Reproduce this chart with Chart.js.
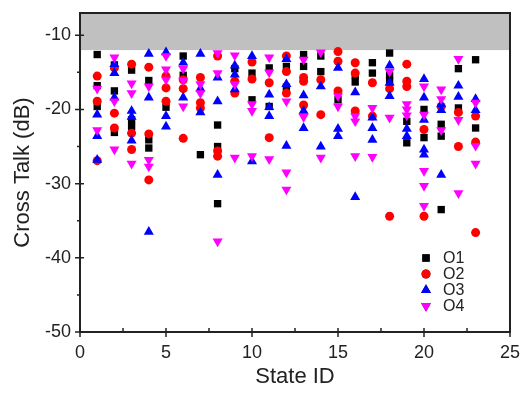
<!DOCTYPE html>
<html>
<head>
<meta charset="utf-8">
<style>
  html, body { margin: 0; padding: 0; background: #fff; }
  #wrap { width: 521px; height: 394px; }
</style>
<script src="https://cdn.jsdelivr.net/npm/chart.js@4.4.1/dist/chart.umd.min.js"></script>
</head>
<body>
<div id="wrap"><canvas id="c" width="521" height="394"></canvas></div>
<script>
// state ids 1..23, each entry lists the cross talk values (dB) read for that state
var stateIds = [1,2,3,4,5,6,7,8,9,10,11,12,13,14,15,16,17,18,19,20,21,22,23];
var o1Values = [
    [-12.6,-16.8,-19.6],[-14.0,-17.5,-23.1],[-14.7,-21.4,-22.3],[-16.1,-24.1,-25.2],[-19.7],
    [-12.8,-15.4],[-26.1],[-22.1,-25.0,-32.7],[-14.5],[-15.1,-18.7],
    [-14.4,-19.6],[-14.2,-17.0],[-12.6,-14.2],[-12.8,-14.9],[-18.7],
    [-15.4,-16.3],[-13.7,-15.1],[-12.4,-15.4,-16.2],[-21.6,-24.5],[-20.0,-23.8],
    [-22.0,-23.6,-33.5],[-14.5,-19.8],[-13.3,-22.5]
];
var o2Values = [
    [-15.5,-18.9,-26.9],[-14.4,-20.5,-22.5],[-13.9,-23.2,-25.4],[-14.3,-23.3,-29.5],[-15.5,-17.1,-18.9],
    [-16.0,-17.2,-23.9],[-15.7,-19.1,-19.8],[-12.8,-25.6,-26.3],[-16.2,-17.8],[-13.6,-15.9],
    [-16.4,-23.8],[-12.8,-14.9,-17.8],[-15.7,-16.2,-19.4],[-16.0,-20.7],[-12.2,-13.5,-17.5],
    [-13.7,-15.1,-20.2],[-16.4,-20.9],[-17.2,-34.4],[-13.9,-16.2,-16.9],[-22.7,-34.4],
    [-19.6],[-20.4,-25.0],[-20.9,-24.4,-36.6]
];
var o3Values = [
    [-20.7,-23.6,-26.8],[-13.9,-15.1,-18.4],[-20.2,-21.0,-24.2],[-12.5,-18.4,-36.5],[-12.3,-20.9,-22.3],
    [-13.7,-18.4],[-12.5,-17.2,-20.4],[-15.7,-18.9,-28.8],[-14.1,-15.3,-17.3],[-12.8,-27.0],
    [-18.0,-19.7,-20.9],[-13.2,-16.6,-24.9],[-18.1,-20.2,-22.5],[-16.9,-25.0],[-14.4,-22.6,-23.6],
    [-17.7,-31.8],[-21.1,-22.5,-24.1],[-14.1,-16.4,-18.2],[-22.6,-23.6],[-15.9,-18.4,-21.4,-25.4,-26.1],
    [-19.3,-20.1,-28.8],[-16.8,-18.3],[-18.6,-20.1]
];
var o4Values = [
    [-17.2,-22.8],[-13.0,-18.9,-25.4],[-16.5,-17.8,-27.3],[-16.9,-26.8,-27.7],[-12.8,-14.6,-16.0],
    [-14.5,-16.1,-19.6],[-16.6,-17.8],[-12.4,-15.1,-37.8],[-12.7,-16.6,-26.5],[-19.3,-20.2,-26.3],
    [-13.0,-15.0,-26.7],[-18.9,-28.5,-30.8],[-13.3,-21.0],[-12.3,-26.5],[-18.2,-19.6],
    [-20.9,-21.6,-26.3],[-19.8,-26.4],[-14.9,-21.1],[-19.3,-20.0,-20.8],[-16.9,-20.7,-28.3,-30.3,-33.0],
    [-17.3,-18.6,-22.8],[-13.2,-21.4,-31.3],[-19.1,-24.9,-27.3]
];
var seriesNames = ["O1", "O2", "O3", "O4"];
var xTicks = [0, 5, 10, 15, 20, 25];
var yTicks = [-50, -40, -30, -20, -10];
var bandFrom = -12;

function toPoints(values) {
    var pts = [];
    values.forEach(function (list, i) {
        list.forEach(function (v) { pts.push({ x: stateIds[i], y: v }); });
    });
    return pts;
}

var styles = [
    { color: "#000000", pointStyle: "rect", radius: 5.2, rotation: 0 },
    { color: "#ff0000", pointStyle: "circle", radius: 4.5, rotation: 0 },
    { color: "#0000ff", pointStyle: "triangle", radius: 5.8, rotation: 0 },
    { color: "#ff00ff", pointStyle: "triangle", radius: 5.8, rotation: 180 }
];
var allValues = [o1Values, o2Values, o3Values, o4Values];

var datasets = allValues.map(function (vals, i) {
    var s = styles[i];
    return {
        label: seriesNames[i],
        data: toPoints(vals),
        pointStyle: s.pointStyle,
        pointRotation: s.rotation,
        pointRadius: s.radius,
        pointHoverRadius: s.radius,
        backgroundColor: s.color,
        borderColor: s.color,
        borderWidth: 0,
        showLine: false,
        order: 4 - i
    };
});

var FONT = "'Liberation Sans', Arial, sans-serif";

var frame = {
    id: "frame",
    beforeDatasetsDraw: function (chart) {
        var ctx = chart.ctx, a = chart.chartArea, y = chart.scales.y;
        var yb = y.getPixelForValue(bandFrom);
        ctx.save();
        ctx.fillStyle = "#c0c0c0";
        ctx.fillRect(a.left, a.top, a.right - a.left, yb - a.top);
        ctx.restore();
    },
    afterDraw: function (chart) {
        var ctx = chart.ctx, a = chart.chartArea, xs = chart.scales.x, ys = chart.scales.y;
        ctx.save();
        ctx.strokeStyle = "#222";
        ctx.lineWidth = 2;
        ctx.strokeRect(a.left, a.top, a.right - a.left, a.bottom - a.top);
        ctx.lineWidth = 1.5;
        ctx.beginPath();
        // major ticks
        xTicks.forEach(function (v) {
            var px = xs.getPixelForValue(v);
            ctx.moveTo(px, a.bottom - 4); ctx.lineTo(px, a.bottom + 5);
        });
        yTicks.forEach(function (v) {
            var py = ys.getPixelForValue(v);
            ctx.moveTo(a.left - 5, py); ctx.lineTo(a.left + 4, py);
        });
        // minor ticks
        for (var v = 2.5; v < 25; v += 5) {
            var px = xs.getPixelForValue(v);
            ctx.moveTo(px, a.bottom); ctx.lineTo(px, a.bottom - 4);
        }
        for (var w = -45; w <= -15; w += 10) {
            var py = ys.getPixelForValue(w);
            ctx.moveTo(a.left - 3, py); ctx.lineTo(a.left, py);
        }
        ctx.stroke();

        // legend
        var lx = 426, ly = 258;
        ctx.font = "16px " + FONT;
        ctx.textBaseline = "middle";
        chart.data.datasets.forEach(function (ds, i) {
            var yy = ly + i * 16;
            Chart.helpers.drawPoint(ctx, {
                pointStyle: ds.pointStyle, rotation: ds.pointRotation,
                radius: ds.pointRadius, borderWidth: 0
            }, lx, yy);
            ctx.fillStyle = ds.backgroundColor;
            ctx.fill();
            ctx.fillStyle = "#222";
            ctx.fillText(ds.label, lx + 17, yy + 1);
        });
        ctx.restore();
    }
};

new Chart(document.getElementById("c"), {
    type: "scatter",
    data: { datasets: datasets },
    options: {
        responsive: false,
        animation: false,
        layout: { padding: { top: 13, right: 11, left: 0, bottom: 0 } },
        plugins: { legend: { display: false }, tooltip: { enabled: false } },
        scales: {
            x: {
                type: "linear", min: 0, max: 25,
                afterBuildTicks: function (s) { s.ticks = xTicks.map(function (v) { return { value: v }; }); },
                afterFit: function (s) { s.height = 62; s.paddingLeft = 0; s.paddingRight = 0; },
                grid: { display: false, drawTicks: false },
                border: { display: false },
                ticks: { color: "#222", padding: 10, maxRotation: 0, font: { family: FONT, size: 18 } },
                title: { display: true, text: "State ID", color: "#222", padding: { top: 9 }, font: { family: FONT, size: 22 } }
            },
            y: {
                type: "linear", min: -50, max: -7,
                afterBuildTicks: function (s) { s.ticks = yTicks.map(function (v) { return { value: v }; }); },
                afterFit: function (s) { s.width = 80; s.paddingTop = 0; s.paddingBottom = 0; },
                grid: { display: false, drawTicks: false },
                border: { display: false },
                ticks: { color: "#222", padding: 9, font: { family: FONT, size: 18 } },
                title: { display: true, text: "Cross Talk (dB)", color: "#222", padding: { top: 10, bottom: 4 }, font: { family: FONT, size: 22 } }
            }
        }
    },
    plugins: [frame]
});
</script>
</body>
</html>
